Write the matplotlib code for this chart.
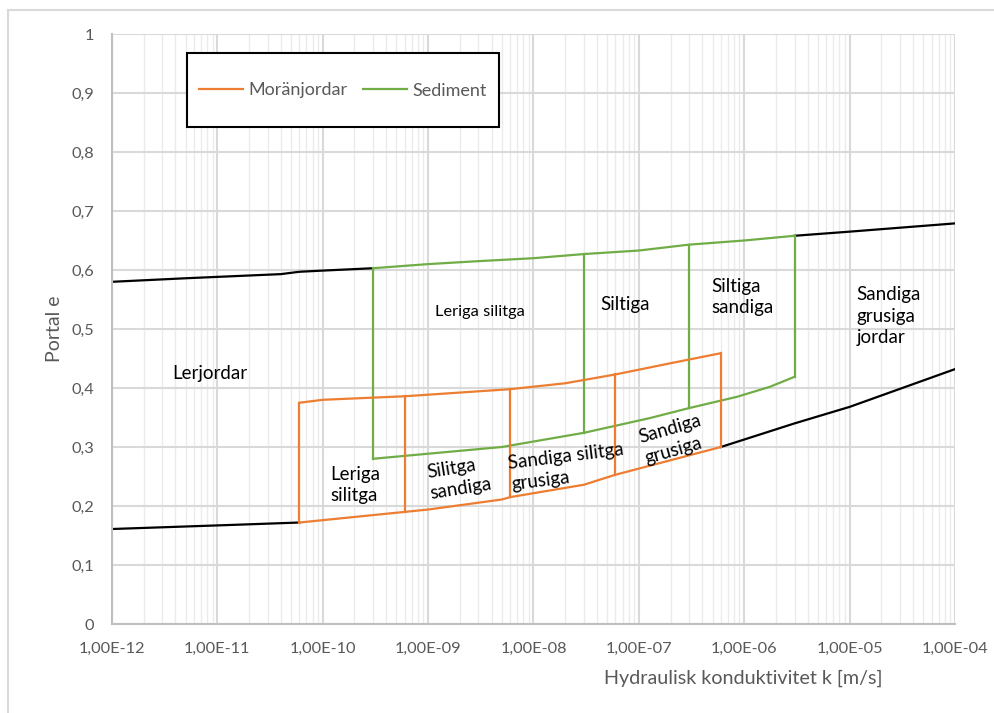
import matplotlib
matplotlib.use("Agg")
import matplotlib.pyplot as plt
import matplotlib.patches as mpatches
from matplotlib.ticker import FuncFormatter, LogLocator, FixedLocator

# Gränslinjer för lerjordar (övre) och grova jordar (undre), vänster och höger del
ovre_v_k = [1e-12, 5e-12, 4e-11, 6e-11, 1e-10, 3e-10]
ovre_v_e = [0.580, 0.586, 0.593, 0.597, 0.599, 0.603]
ovre_h_k = [3e-6, 1e-5, 1e-4]
ovre_h_e = [0.658, 0.665, 0.679]
undre_v_k = [1e-12, 1.4e-11, 6e-11]
undre_v_e = [0.161, 0.168, 0.172]
undre_h_k = [6e-7, 3e-6, 1e-5, 1e-4]
undre_h_e = [0.300, 0.340, 0.368, 0.432]

# Moränjordar
mor_topp_k = [6e-11, 1e-10, 6e-10, 6e-9, 2e-8, 6e-8, 2e-7, 6e-7]
mor_topp_e = [0.375, 0.380, 0.386, 0.398, 0.408, 0.423, 0.442, 0.459]
mor_botten_k = [6e-11, 1e-10, 6e-10, 1e-9, 5e-9, 6e-9, 3e-8, 6e-8, 6e-7]
mor_botten_e = [0.172, 0.176, 0.190, 0.194, 0.211, 0.215, 0.236, 0.253, 0.300]
mor_grans_k = [6e-11, 6e-10, 6e-9, 6e-8, 6e-7]
mor_grans_lo = [0.172, 0.190, 0.215, 0.253, 0.300]
mor_grans_hi = [0.375, 0.386, 0.398, 0.423, 0.459]

# Sediment
sed_topp_k = [3e-10, 1e-9, 3e-9, 1e-8, 3e-8, 1e-7, 3e-7, 1e-6, 3e-6]
sed_topp_e = [0.603, 0.610, 0.615, 0.620, 0.627, 0.633, 0.643, 0.650, 0.658]
sed_botten_k = [3e-10, 6e-10, 5e-9, 3e-8, 1.27e-7, 3e-7, 8.5e-7, 1.75e-6, 3e-6]
sed_botten_e = [0.280, 0.285, 0.300, 0.324, 0.349, 0.366, 0.385, 0.402, 0.419]
sed_grans_k = [3e-10, 3e-8, 3e-7, 3e-6]
sed_grans_lo = [0.280, 0.324, 0.366, 0.419]
sed_grans_hi = [0.603, 0.627, 0.643, 0.658]

# Områdesetiketter: text, k, e, rotation, horisontell justering, storlek
etiketter = [
    ("Lerjordar", 3.7e-12, 0.425, 0, "left", 13.5),
    ("Leriga silitga", 3.07e-9, 0.529, 0, "center", 11.8),
    ("Siltiga", 7.4e-8, 0.542, 0, "center", 13.5),
    ("Siltiga\nsandiga", 4.9e-7, 0.554, 0, "left", 13.5),
    ("Sandiga\ngrusiga\njordar", 1.16e-5, 0.522, 0, "left", 13.5),
    ("Leriga\nsilitga", 1.17e-10, 0.236, 0, "left", 13.5),
    ("Silitga\nsandiga", 1.96e-9, 0.247, 9, "center", 13.5),
    ("Sandiga silitga\ngrusiga", 2.1e-8, 0.266, 7, "center", 13.5),
    ("Sandiga\ngrusiga", 2.1e-7, 0.313, 16, "center", 13.5),
]

x_ticks = [1e-12, 1e-11, 1e-10, 1e-9, 1e-8, 1e-7, 1e-6, 1e-5, 1e-4]
y_ticks = [0, 0.1, 0.2, 0.3, 0.4, 0.5, 0.6, 0.7, 0.8, 0.9, 1.0]

orange = "#ED7D31"
gron = "#70AD47"
gra_text = "#595959"
grid_farg = "#D9D9D9"

plt.rcParams["font.family"] = ["Lato", "DejaVu Sans"]

fig = plt.figure(figsize=(9.94, 7.13), dpi=100)
ax = fig.add_axes([112 / 994, 1 - 624 / 713, (955 - 112) / 994, (624 - 34) / 713])

# ram runt diagramytan
fig.patches.append(mpatches.Rectangle((8 / 994, -0.5), 2, 0.986 + 0.5,
                                      transform=fig.transFigure, fill=False,
                                      edgecolor=grid_farg, lw=1.5))

ax.set_xscale("log")
ax.set_xlim(1e-12, 1e-4)
ax.set_ylim(0, 1)

ax.xaxis.set_major_locator(FixedLocator(x_ticks))
ax.xaxis.set_minor_locator(LogLocator(base=10, subs=range(2, 10), numticks=100))
ax.yaxis.set_major_locator(FixedLocator(y_ticks))
ax.xaxis.set_major_formatter(FuncFormatter(lambda v, p: f"{v:.2E}".replace(".", ",")))
ax.yaxis.set_major_formatter(FuncFormatter(lambda v, p: f"{v:.1f}".replace(".", ",").replace(",0", "")))

ax.grid(which="major", color=grid_farg, lw=1.5)
ax.grid(which="minor", axis="x", color="#EBEBEB", lw=1.0)
ax.set_axisbelow(True)
ax.tick_params(which="both", length=0)
ax.tick_params(axis="x", pad=13, labelsize=11.8, labelcolor=gra_text)
ax.tick_params(axis="y", pad=13, labelsize=11.8, labelcolor=gra_text)
for s in ["top", "right"]:
    ax.spines[s].set_visible(False)
for s in ["left", "bottom"]:
    ax.spines[s].set_color("#BFBFBF")
    ax.spines[s].set_linewidth(1.5)

lw = 1.6
ax.plot(ovre_v_k, ovre_v_e, color="black", lw=lw)
ax.plot(ovre_h_k, ovre_h_e, color="black", lw=lw)
ax.plot(undre_v_k, undre_v_e, color="black", lw=lw)
ax.plot(undre_h_k, undre_h_e, color="black", lw=lw)

ax.plot(sed_topp_k, sed_topp_e, color=gron, lw=lw)
ax.plot(sed_botten_k, sed_botten_e, color=gron, lw=lw)
for k, lo, hi in zip(sed_grans_k, sed_grans_lo, sed_grans_hi):
    ax.plot([k, k], [lo, hi], color=gron, lw=lw)

ax.plot(mor_topp_k, mor_topp_e, color=orange, lw=lw)
ax.plot(mor_botten_k, mor_botten_e, color=orange, lw=lw)
for k, lo, hi in zip(mor_grans_k, mor_grans_lo, mor_grans_hi):
    ax.plot([k, k], [lo, hi], color=orange, lw=lw)

for txt, k, e, rot, ha, fs in etiketter:
    ax.text(k, e, txt, ha=ha, va="center", rotation=rot, rotation_mode="anchor",
            fontsize=fs, color="black", linespacing=1.32, multialignment="left")

ax.set_xlabel("Hydraulisk konduktivitet k [m/s]", fontsize=14.2, color=gra_text)
ax.xaxis.set_label_coords((743 - 112) / (955 - 112), -(670 - 624) / 590)
ax.set_ylabel("Portal e", fontsize=14, color=gra_text)
ax.yaxis.set_label_coords(-(112 - 63) / 843, 0.5)

# legend i en egen ram
fig.patches.append(mpatches.Rectangle((186.7 / 994, 1 - 126.7 / 713), 312.3 / 994, 73.4 / 713,
                                      transform=fig.transFigure, fill=True, facecolor="white",
                                      edgecolor="black", lw=1.5, zorder=5))
handtag = [plt.Line2D([], [], color=orange, lw=lw, label="Moränjordar"),
           plt.Line2D([], [], color=gron, lw=lw, label="Sediment")]
leg = fig.legend(handles=handtag, loc="center", bbox_to_anchor=(0.3449, 1 - 90.5 / 713),
                 bbox_transform=fig.transFigure, ncol=2, frameon=False, fontsize=13,
                 handlelength=2.4, handletextpad=0.3, columnspacing=0.9)
leg.set_zorder(6)
for t in leg.get_texts():
    t.set_color(gra_text)

fig.savefig("out.png", dpi=100)
